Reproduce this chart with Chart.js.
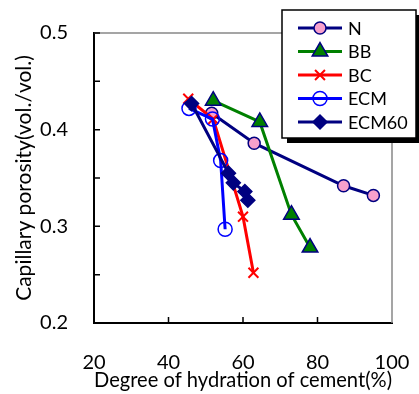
<!DOCTYPE html>
<html>
<head>
<meta charset="utf-8">
<script src="https://cdn.jsdelivr.net/npm/chart.js@4/dist/chart.umd.min.js"></script>
<style>
  html, body { margin: 0; padding: 0; background: #fff; }
  canvas { display: block; }
</style>
</head>
<body>
<canvas id="chart" width="419" height="394"></canvas>
<script>
// values
const seriesNames = ['N', 'BB', 'BC', 'ECM', 'ECM60'];
const nX = [51.6, 63.0, 87.0, 95.0];
const nY = [0.417, 0.386, 0.342, 0.332];
const bbX = [52.0, 64.5, 73.0, 78.0];
const bbY = [0.430, 0.408, 0.312, 0.278];
const bcX = [45.3, 52.0, 60.0, 62.8];
const bcY = [0.432, 0.411, 0.310, 0.252];
const ecmX = [45.5, 51.8, 54.0, 55.2];
const ecmY = [0.422, 0.411, 0.368, 0.297];
const ecm60X = [46.2, 56.1, 57.4, 60.5, 61.3];
const ecm60Y = [0.427, 0.355, 0.345, 0.336, 0.327];
const xTicks = [20, 40, 60, 80, 100];
const yTicks = [0.2, 0.3, 0.4, 0.5];

const NAVY = '#000080';
const FONT = 'Lato, "Open Sans", sans-serif';

const pts = (xs, ys) => xs.map((x, i) => ({ x: x, y: ys[i] }));

function series(label, xs, ys, color, style, r, fill, stroke, order) {
  return {
    label: label,
    data: pts(xs, ys),
    showLine: true,
    borderColor: color,
    borderWidth: 3,
    pointStyle: style,
    pointRadius: r,
    pointHoverRadius: r,
    pointBackgroundColor: fill,
    pointBorderColor: stroke,
    pointBorderWidth: style === 'crossRot' ? 2 : 1.5,
    order: order
  };
}

const datasets = [
  series(seriesNames[0], nX, nY, NAVY, 'circle', 6, '#F8A0CC', NAVY, 5),
  series(seriesNames[1], bbX, bbY, '#008000', 'triangle', 9, '#008000', NAVY, 4),
  series(seriesNames[2], bcX, bcY, '#FF0000', 'crossRot', 7, '#FF0000', '#FF0000', 3),
  series(seriesNames[3], ecmX, ecmY, '#0000FF', 'circle', 7, 'rgba(0,0,0,0)', '#0000FF', 2),
  series(seriesNames[4], ecm60X, ecm60Y, NAVY, 'rectRot', 7, NAVY, NAVY, 1)
];

function drawMarker(ctx, ds, x, y) {
  const r = ds.pointRadius;
  ctx.save();
  ctx.beginPath();
  if (ds.pointStyle === 'circle') {
    ctx.arc(x, y, r, 0, Math.PI * 2);
  } else if (ds.pointStyle === 'triangle') {
    for (let i = 0; i < 3; i++) {
      const a = i * 2 * Math.PI / 3;
      ctx.lineTo(x + Math.sin(a) * r, y - Math.cos(a) * r);
    }
    ctx.closePath();
  } else if (ds.pointStyle === 'rectRot') {
    ctx.moveTo(x - r, y); ctx.lineTo(x, y - r); ctx.lineTo(x + r, y); ctx.lineTo(x, y + r);
    ctx.closePath();
  } else if (ds.pointStyle === 'crossRot') {
    const o = r * Math.SQRT1_2;
    ctx.moveTo(x - o, y - o); ctx.lineTo(x + o, y + o);
    ctx.moveTo(x + o, y - o); ctx.lineTo(x - o, y + o);
  }
  if (ds.pointStyle !== 'crossRot') {
    ctx.fillStyle = ds.pointBackgroundColor;
    ctx.fill();
  }
  ctx.strokeStyle = ds.pointBorderColor;
  ctx.lineWidth = ds.pointBorderWidth;
  ctx.stroke();
  ctx.restore();
}

// inner tick marks plus the grey top/right frame
const framePlugin = {
  id: 'frame',
  beforeDatasetsDraw(chart) {
    const { ctx, chartArea: a, scales } = chart;
    ctx.save();
    ctx.strokeStyle = '#888';
    ctx.lineWidth = 1.5;
    ctx.beginPath();
    ctx.moveTo(a.left, a.top); ctx.lineTo(a.right, a.top); ctx.lineTo(a.right, a.bottom);
    ctx.stroke();
    ctx.strokeStyle = '#000';
    ctx.lineWidth = 1.5;
    ctx.beginPath();
    scales.x.ticks.forEach(t => {
      if (t.value <= scales.x.min || t.value >= scales.x.max) return;
      const px = scales.x.getPixelForValue(t.value);
      ctx.moveTo(px, a.bottom); ctx.lineTo(px, a.bottom - 6);
    });
    scales.y.ticks.forEach(t => {
      const py = scales.y.getPixelForValue(t.value);
      ctx.moveTo(a.left, py); ctx.lineTo(a.left + 6, py);
    });
    ctx.stroke();
    ctx.restore();
  }
};

// boxed legend with drop shadow, top right
const legendPlugin = {
  id: 'boxLegend',
  afterDraw(chart) {
    const ctx = chart.ctx;
    const bx = 282, by = 10, bw = 134, bh = 128;
    ctx.save();
    ctx.fillStyle = '#000';
    ctx.fillRect(bx + 5, by + 5, bw, bh);
    ctx.fillStyle = '#fff';
    ctx.fillRect(bx, by, bw, bh);
    ctx.strokeStyle = '#000';
    ctx.lineWidth = 1.5;
    ctx.strokeRect(bx, by, bw, bh);
    ctx.font = '18px ' + FONT;
    ctx.textBaseline = 'middle';
    ctx.fillStyle = '#000';
    chart.data.datasets.forEach((ds, i) => {
      const y = 28 + i * 23.5;
      ctx.strokeStyle = ds.borderColor;
      ctx.lineWidth = 3;
      ctx.beginPath();
      ctx.moveTo(298, y); ctx.lineTo(342, y);
      ctx.stroke();
      drawMarker(ctx, ds, 320, y);
      ctx.fillStyle = '#000';
      ctx.fillText(ds.label, 348, y + 1);
    });
    ctx.restore();
  }
};

new Chart(document.getElementById('chart'), {
  type: 'scatter',
  data: { datasets: datasets },
  options: {
    responsive: false,
    animation: false,
    layout: { padding: { top: 33, right: 27, left: 0, bottom: 0 } },
    plugins: { legend: { display: false }, tooltip: { enabled: false } },
    scales: {
      x: {
        type: 'linear',
        min: xTicks[0],
        max: xTicks[xTicks.length - 1],
        afterFit: s => { s.height = 71; s.paddingLeft = 0; s.paddingRight = 0; },
        afterBuildTicks: s => { s.ticks = xTicks.map(v => ({ value: v })); },
        grid: { display: true, drawOnChartArea: false, drawTicks: false },
        border: { display: true, color: '#000', width: 2 },
        ticks: { padding: 28, color: '#000', font: { family: FONT, size: 20 } },
        title: {
          display: true,
          text: 'Degree of hydration of cement(%)',
          color: '#000',
          font: { family: FONT, size: 21 },
          padding: { top: 0, bottom: 1 }
        }
      },
      y: {
        min: 0.2,
        max: 0.5,
        afterFit: s => { s.width = 94; s.paddingTop = 0; s.paddingBottom = 0; },
        afterBuildTicks: s => {
          const t = [];
          for (let v = 20; v <= 50; v += 5) t.push({ value: v / 100 });
          s.ticks = t;
        },
        grid: { display: true, drawOnChartArea: false, drawTicks: false },
        border: { display: true, color: '#000', width: 2 },
        ticks: {
          padding: 26,
          color: '#000',
          font: { family: FONT, size: 20 },
          callback: v => {
            const k = Math.round(v * 100);
            return k % 10 === 0 && yTicks.includes(k / 100) ? (k / 100).toFixed(1) : '';
          }
        },
        title: {
          display: true,
          text: 'Capillary porosity(vol./vol.)',
          color: '#000',
          font: { family: FONT, size: 21 },
          padding: { top: 12, bottom: 0 }
        }
      }
    }
  },
  plugins: [framePlugin, legendPlugin]
});
</script>
</body>
</html>
